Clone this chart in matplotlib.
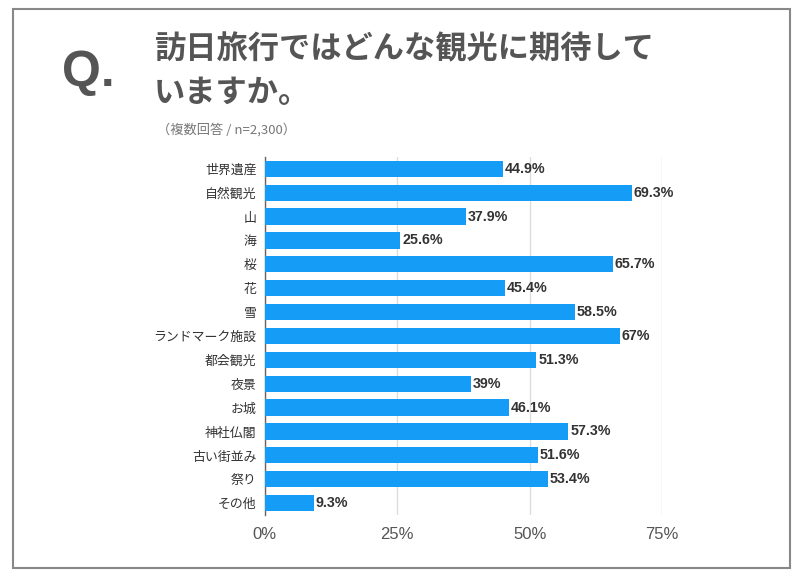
import matplotlib
matplotlib.use("Agg")
import matplotlib.pyplot as plt
from matplotlib.patches import Rectangle

plt.rcParams["font.family"] = ["Noto Sans CJK JP", "DejaVu Sans"]

CATEGORIES = ["世界遺産", "自然観光", "山", "海", "桜", "花", "雪", "ランドマーク施設",
              "都会観光", "夜景", "お城", "神社仏閣", "古い街並み", "祭り", "その他"]
VALUES = [44.9, 69.3, 37.9, 25.6, 65.7, 45.4, 58.5, 67, 51.3, 39, 46.1, 57.3, 51.6, 53.4, 9.3]
XTICKS = [0, 25, 50, 75]

BAR = "#159cf7"; TXT = "#333333"; GRAY = "#555555"; GRID = "#dddddd"
LATIN = ["Liberation Sans", "DejaVu Sans"]

fig = plt.figure(figsize=(8, 5.81), dpi=100, facecolor="white")

# outer frame
fig.patches.append(Rectangle((0.016, 0.022), 0.972, 0.962, transform=fig.transFigure,
                             fill=False, edgecolor="#888888", linewidth=1.5))

fig.text(0.078, 0.875, "Q.", fontsize=36, color="#555555", ha="left", va="center",
         family=LATIN, fontweight="bold")
fig.text(0.192, 0.915, "訪日旅行ではどんな観光に期待して", fontsize=22.5, color="#555555",
         ha="left", va="center", fontweight="bold")
fig.text(0.192, 0.840, "いますか。", fontsize=22.5, color="#555555",
         ha="left", va="center", fontweight="bold")
fig.text(0.196, 0.777, "（複数回答 / n=2,300）", fontsize=9.5, color="#777777",
         ha="left", va="center")

ax = fig.add_axes([0.331, 0.1136, 0.4965, 0.6164])
y = list(range(len(CATEGORIES)))
ax.barh(y, VALUES, height=0.68, color=BAR, zorder=3)
for yi, v in zip(y, VALUES):
    ax.text(v + 0.35, yi, f"{v:g}%", va="center", ha="left", fontsize=10.3,
            fontweight="bold", color=TXT, zorder=4, family=LATIN)

ax.set_ylim(len(CATEGORIES) - 0.5, -0.5)
ax.set_xlim(0, 75)
ax.set_yticks(y)
ax.set_yticklabels(CATEGORIES, fontsize=9.3, color=TXT)
ax.set_xticks(XTICKS)
ax.set_xticklabels([f"{t}%" for t in XTICKS], fontsize=12, color=GRAY, family=LATIN)
ax.tick_params(axis="both", length=0, pad=6)
ax.tick_params(axis="x", pad=9)

for s in ["top", "right", "bottom"]:
    ax.spines[s].set_visible(False)
ax.spines["left"].set_color("#666666")
ax.spines["left"].set_linewidth(1)
ax.grid(True, axis="x", color=GRID, linewidth=1, zorder=0)

fig.savefig("out.png", dpi=100, facecolor="white")
